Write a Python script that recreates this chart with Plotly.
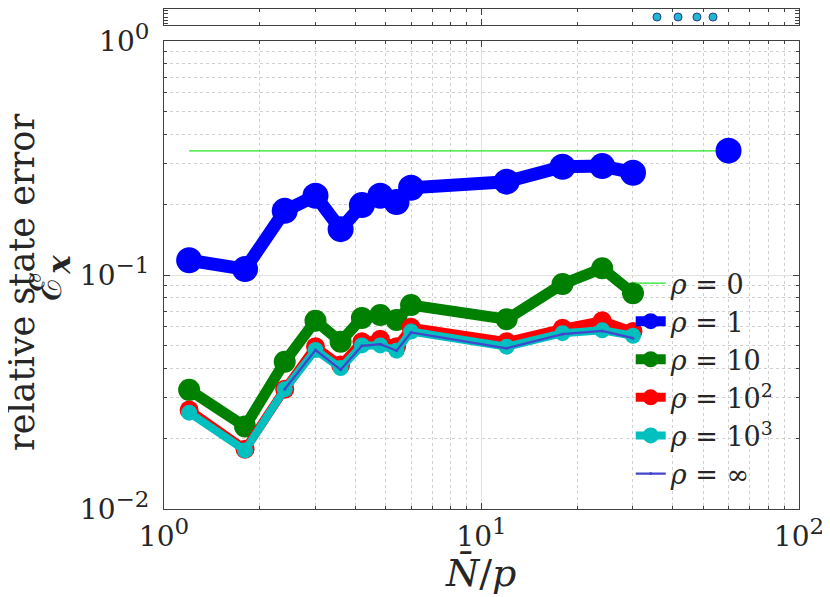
import plotly.graph_objects as go

# ---- data ----
N_over_p = [1.2, 1.8, 2.4, 3.0, 3.6, 4.2, 4.8, 5.4, 6.0, 12, 18, 24, 30]

rho0_x = [1.2, 60]
rho0_y = [0.339, 0.339]

rho1_x = N_over_p + [None, 60]
rho1_y = [0.1156, 0.106, 0.188, 0.218, 0.157, 0.199, 0.218, 0.205, 0.236,
          0.2505, 0.290, 0.292, 0.2736] + [None, 0.340]

rho10_y = [0.0323, 0.0225, 0.0426, 0.0638, 0.0519, 0.0655, 0.0675, 0.0642,
           0.0744, 0.0647, 0.0915, 0.1068, 0.0835]

rho100_y = [0.0265, 0.0180, 0.0325, 0.0494, 0.0412, 0.0519, 0.0531, 0.0494,
            0.0598, 0.0519, 0.0592, 0.0638, 0.0573]

rho1000_y = [0.0258, 0.0178, 0.0325, 0.0478, 0.0400, 0.0500, 0.0500, 0.0475,
             0.0573, 0.0494, 0.0564, 0.0580, 0.0550]

rhoinf_x = N_over_p[2:]
rhoinf_y = [0.0325, 0.0478, 0.0394, 0.0498, 0.0506, 0.0475, 0.0568,
            0.0486, 0.0559, 0.0577, 0.0537]

strip_x = [35.7, 41.6, 47.7, 53.6]
strip_y = [0.5, 0.5, 0.5, 0.5]

x_tickvals = [1, 10, 100]
x_minor = [2, 3, 4, 5, 6, 7, 8, 9, 20, 30, 40, 50, 60, 70, 80, 90]
y_tickvals = [0.01, 0.1, 1]
y_minor = [0.02, 0.03, 0.04, 0.05, 0.06, 0.07, 0.08, 0.09,
           0.2, 0.3, 0.4, 0.5, 0.6, 0.7, 0.8, 0.9]


def pow_label(exp):
    return "10<sup><span style='font-size:23px'>%s</span></sup>" % exp


x_ticktext = [pow_label("0"), pow_label("1"), pow_label("2")]
y_ticktext = [pow_label("\u22122"), pow_label("\u22121"), pow_label("0")]

FONT = "DejaVu Serif"
AX = "#404040"
TXT = "#262626"


def rho(v):
    return "<i>ρ</i> = " + v


fig = go.Figure()

fig.add_trace(go.Scatter(x=rho0_x, y=rho0_y, mode="lines", name=rho("0"),
                         line=dict(color="#22e622", width=1.2)))
fig.add_trace(go.Scatter(x=rho1_x, y=rho1_y, mode="lines+markers", name=rho("1"),
                         line=dict(color="#0000ff", width=13),
                         marker=dict(color="#0000ff", size=26), connectgaps=False))
fig.add_trace(go.Scatter(x=N_over_p, y=rho10_y, mode="lines+markers", name=rho("10"),
                         line=dict(color="#008000", width=11),
                         marker=dict(color="#008000", size=22)))
fig.add_trace(go.Scatter(x=N_over_p, y=rho100_y, mode="lines+markers",
                         name=rho("10<sup>2</sup>"),
                         line=dict(color="#ff0000", width=9),
                         marker=dict(color="#ff0000", size=19)))
fig.add_trace(go.Scatter(x=N_over_p, y=rho1000_y, mode="lines+markers",
                         name=rho("10<sup>3</sup>"),
                         line=dict(color="#00bfbf", width=8),
                         marker=dict(color="#00bfbf", size=16)))
fig.add_trace(go.Scatter(x=rhoinf_x, y=rhoinf_y, mode="lines+markers", name=rho("∞"),
                         line=dict(color="#4444cc", width=2.2),
                         marker=dict(color="#4444cc", size=3)))

# top strip
fig.add_trace(go.Scatter(x=strip_x, y=strip_y, mode="markers", showlegend=False,
                         xaxis="x2", yaxis="y2",
                         marker=dict(color="#1fb8d0", size=8,
                                     line=dict(color="#2a3a90", width=1))))

axis_common = dict(type="log", showline=True, linecolor=AX, linewidth=1, mirror="ticks",
                   ticks="inside", ticklen=6, tickcolor=AX, automargin=False,
                   showgrid=True, gridcolor="#e2e2e2", gridwidth=1, zeroline=False,
                   tickfont=dict(size=28, color=TXT))

# the page body adds an 8px offset; the figure is sized to fit the 830x597 window
fig.update_layout(
    width=822, height=589,
    margin=dict(l=156, r=31, t=1, b=88),
    paper_bgcolor="white", plot_bgcolor="white",
    font=dict(family=FONT, size=25, color=TXT),
    xaxis=dict(**axis_common, range=[0, 2], domain=[0, 1],
               tickvals=x_tickvals, ticktext=x_ticktext, ticklabelstandoff=2,
               minor=dict(tickvals=x_minor, ticks="inside", ticklen=3, tickcolor=AX,
                          showgrid=True, gridcolor="#d0d0d0", griddash="dot", gridwidth=1)),
    yaxis=dict(**axis_common, range=[-2, 0], domain=[0, 0.936],
               tickvals=y_tickvals, ticktext=y_ticktext, ticklabelstandoff=8,
               minor=dict(tickvals=y_minor, ticks="inside", ticklen=3, tickcolor=AX,
                          showgrid=True, gridcolor="#d0d0d0", griddash="dot", gridwidth=1)),
    xaxis2=dict(type="log", range=[0, 2], domain=[0, 1], anchor="y2", automargin=False,
                showline=True, linecolor=AX, mirror="ticks", ticks="inside",
                ticklen=6, tickcolor=AX, showticklabels=False, showgrid=False,
                tickvals=x_tickvals,
                minor=dict(tickvals=x_minor, ticks="inside", ticklen=3, tickcolor=AX,
                           showgrid=False)),
    yaxis2=dict(range=[0, 1], domain=[0.968, 1], anchor="x2", automargin=False,
                showline=True, linecolor=AX, mirror="ticks", ticks="inside",
                ticklen=4, tickcolor=AX, showticklabels=False, showgrid=False,
                zeroline=False, tickvals=[0.1, 0.3, 0.5, 0.7, 0.9]),
    legend=dict(x=0.735, y=0.50, xanchor="left", yanchor="top",
                bgcolor="rgba(0,0,0,0)", borderwidth=0,
                font=dict(size=27), itemsizing="trace", tracegroupgap=0),
    showlegend=True,
    annotations=[
        dict(text="relative state error", xref="paper", yref="paper",
             x=-0.2236, y=0.452, xanchor="center", yanchor="middle",
             textangle=-90, showarrow=False, font=dict(size=35)),
        dict(text="ℰ<sub><b><i>x</i></b></sub>", xref="paper", yref="paper",
             x=-0.183, y=0.462, xanchor="center", yanchor="middle",
             textangle=-90, showarrow=False, font=dict(size=44)),
        dict(text="<i>N̄</i>/<i>p</i>", xref="paper", yref="paper",
             x=0.499, y=-0.128, xanchor="center", yanchor="middle",
             showarrow=False, font=dict(size=38)),
    ],
)

fig.write_html("out.html")
